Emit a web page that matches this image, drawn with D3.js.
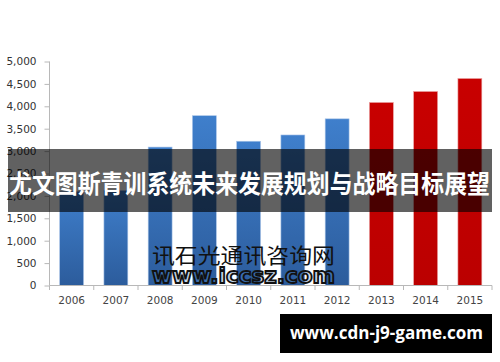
<!DOCTYPE html>
<html><head><meta charset="utf-8">
<script src="https://cdn.jsdelivr.net/npm/d3@7"></script>
<style>body{margin:0;background:#fff}svg{display:block}</style>
</head><body>
<svg id="c" width="500" height="362"></svg>
<script>
const years = ["2006","2007","2008","2009","2010","2011","2012","2013","2014","2015"];
const values = [2100,2120,3090,3790,3220,3360,3720,4085,4330,4620];
const forecast = [false,false,false,false,false,false,false,true,true,true];
const yTicks = [0,500,1000,1500,2000,2500,3000,3500,4000,4500,5000];
const title = "尤文图斯青训系统未来发展规划与战略目标展望";
const wm1 = "讯石光通讯咨询网";
const wm2 = "www.iccsz.com";
const site = "www.cdn-j9-game.com";

const svg = d3.select("#c");
const defs = svg.append("defs");
const g1 = defs.append("linearGradient").attr("id","gb").attr("x1",0).attr("y1",0).attr("x2",0).attr("y2",1);
g1.append("stop").attr("offset","0%").attr("stop-color","#3f7fcc");
g1.append("stop").attr("offset","100%").attr("stop-color","#2c5c9c");
const g2 = defs.append("linearGradient").attr("id","gr").attr("x1",0).attr("y1",0).attr("x2",0).attr("y2",1);
g2.append("stop").attr("offset","0%").attr("stop-color","#c80000");
g2.append("stop").attr("offset","100%").attr("stop-color","#bb0000");

const x = d3.scaleBand().domain(years).range([49.5,492]).paddingInner(0.46).paddingOuter(0.23);
const y = d3.scaleLinear().domain([0,5000]).range([285.5,61.5]);

// bars
svg.append("g").selectAll("rect").data(years).join("rect")
  .attr("x", d=>x(d)).attr("width", x.bandwidth())
  .attr("y", (d,i)=>y(values[i])).attr("height",(d,i)=>y(0)-y(values[i]))
  .attr("fill",(d,i)=>forecast[i]?"url(#gr)":"url(#gb)")
  .attr("stroke",(d,i)=>forecast[i]?"#e9a0a0":"#a9c4e8").attr("stroke-width",0.6);

// y axis
const ya = svg.append("g").attr("transform","translate(49.5,0)")
  .call(d3.axisLeft(y).tickValues(yTicks).tickSize(5).tickPadding(8).tickFormat(d3.format(",")));
ya.select(".domain").attr("stroke","#b8b8b8").attr("d","M0,61.5V285.5");
ya.selectAll(".tick line").attr("stroke","#b8b8b8");
ya.selectAll(".tick text").attr("fill","#333").style("font-family","'DejaVu Sans',sans-serif").style("font-size","10.5px");

// x axis
const xa = svg.append("g").attr("transform","translate(0,285.5)")
  .call(d3.axisBottom(x).tickSize(0).tickPadding(11));
xa.select(".domain").attr("stroke","#b8b8b8").attr("d","M49.5,0H492");
xa.selectAll(".tick text").attr("fill","#444").style("font-family","'DejaVu Sans',sans-serif").style("font-size","10.5px");
const step = x.step();
svg.append("g").selectAll("line").data(d3.range(years.length+1)).join("line")
  .attr("x1",i=>49.5+i*step).attr("x2",i=>49.5+i*step)
  .attr("y1",285.5).attr("y2",290).attr("stroke","#b8b8b8");

// watermark
svg.append("text").attr("x",152).attr("y",263).attr("textLength",183).attr("lengthAdjust","spacingAndGlyphs")
  .style("font-family","'Noto Sans CJK SC',serif").style("font-size","21px").attr("fill","#111").text(wm1);
svg.append("text").attr("x",152).attr("y",283).attr("textLength",183).attr("lengthAdjust","spacingAndGlyphs")
  .style("font-family","'DejaVu Sans',sans-serif").style("font-weight","bold").style("font-size","21px")
  .attr("fill","#5a8fd0").attr("fill-opacity",0.35).attr("stroke","#111").attr("stroke-width",1.8).text(wm2);

// banner
svg.append("rect").attr("x",8).attr("y",149).attr("width",484).attr("height",63).attr("fill","rgba(0,0,0,0.62)");
svg.append("text").attr("x",9).attr("y",193).attr("textLength",481).attr("lengthAdjust","spacingAndGlyphs")
  .style("font-family","'Noto Sans CJK SC',sans-serif").style("font-weight","bold").style("font-size","25px")
  .attr("fill","#fff").text(title);

// site box
svg.append("rect").attr("x",280).attr("y",314).attr("width",212).attr("height",39).attr("fill","#000");
svg.append("text").attr("x",290).attr("y",339).attr("textLength",193).attr("lengthAdjust","spacingAndGlyphs")
  .style("font-family","'Open Sans',sans-serif").style("font-weight","bold").style("font-size","18px")
  .attr("fill","#fff").text(site);
</script>
</body></html>
